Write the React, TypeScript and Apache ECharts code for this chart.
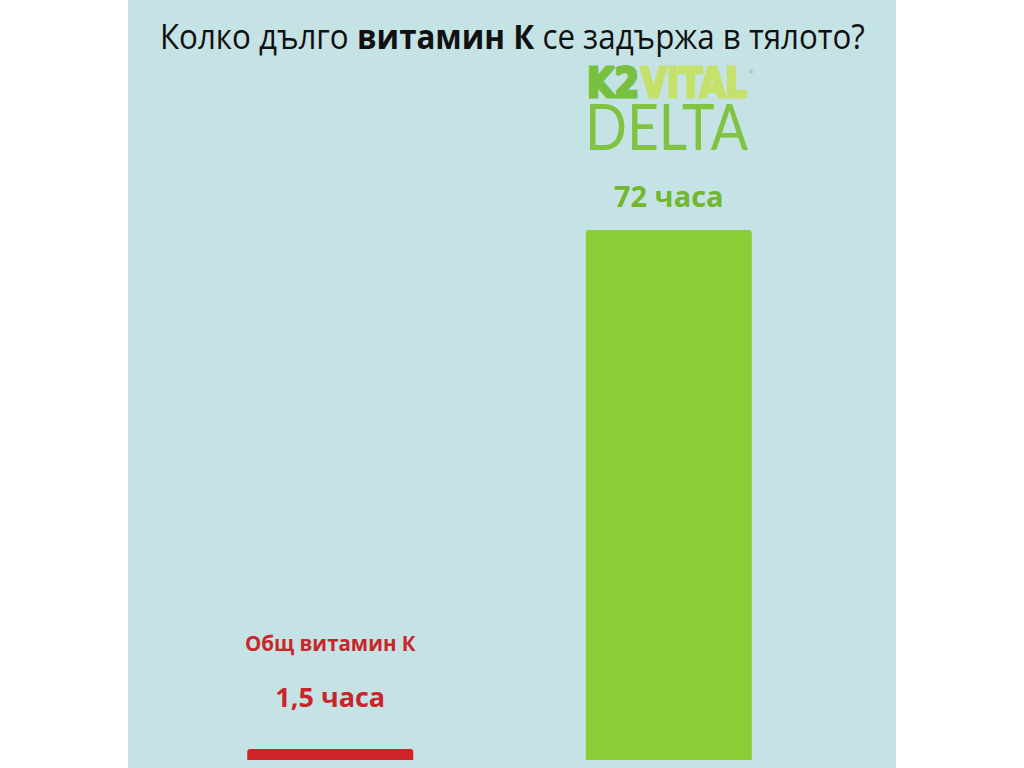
import React, { useEffect, useRef } from "react";
import * as echarts from "echarts";

const titleParts = ["Колко дълго ", "витамин К", " се задържа в тялото?"];
const categories = ["Общ витамин К", "K2VITAL DELTA"];
const values = [1.5, 72];
const unit = "часа";
const barColors = ["#cf2427", "#8acd37"];
const labelColors = ["#c8262b", "#72b72e"];
const logoParts = ["K2", "VITAL", "DELTA"];
const logoColors = ["#78c03f", "#c6e16a", "#80c342"];

function measure(text: string, font: string): number {
  const c = document.createElement("canvas");
  const ctx = c.getContext("2d")!;
  ctx.font = font;
  return ctx.measureText(text).width;
}

function fmt(v: number): string {
  return String(v).replace(".", ",") + " " + unit;
}

export default function App() {
  const ref = useRef<HTMLDivElement>(null);
  useEffect(() => {
    if (!ref.current) return;
    const chart = echarts.init(ref.current, null, { renderer: "svg" });

    const kFont = 'bold 40px "DejaVu Sans"';
    const dFont = 'normal 64px "Lato"';
    const sK2 = 52 / measure(logoParts[0], kFont);
    const sVital = 106 / measure(logoParts[1], kFont);
    const sDelta = 163 / measure(logoParts[2], dFont);

    const tSize = 34;
    const tNorm = `normal ${tSize}px "Open Sans"`;
    const tBold = `bold ${tSize}px "Open Sans"`;
    const tWidth =
      measure(titleParts[0], tNorm) + measure(titleParts[1], tBold) + measure(titleParts[2], tNorm);
    const sTitle = 705 / tWidth;

    const data = values.map((v, i) => ({
      value: v,
      itemStyle: { color: barColors[i], borderRadius: [3, 3, 0, 0] },
      label:
        i === 0
          ? {
              show: true,
              position: "top",
              distance: 25,
              formatter: `{n|${categories[0]}}\n{v|${fmt(v)}}`,
              rich: {
                n: { fontSize: 20.5, fontWeight: "bold", fontFamily: "Open Sans", color: labelColors[i], lineHeight: 54 },
                v: { fontSize: 27, fontWeight: "bold", fontFamily: "Open Sans", color: labelColors[i], lineHeight: 54 },
              },
            }
          : {
              show: true,
              position: "top",
              distance: 20,
              formatter: `{v|${fmt(v)}}`,
              rich: {
                v: { fontSize: 29, fontWeight: "bold", fontFamily: "Open Sans", color: labelColors[i], lineHeight: 30 },
              },
            },
    }));

    const logoText = (text: string, x: number, y: number, scaleX: number, size: number, weight: any, family: string, fill: string, stroke?: number) => ({
      type: "text",
      x,
      y,
      scaleX,
      silent: true,
      style: {
        text,
        fontSize: size,
        fontWeight: weight,
        fontFamily: family,
        fill,
        stroke: stroke ? fill : undefined,
        lineWidth: stroke || 0,
        align: "left",
        verticalAlign: "middle",
      },
    });

    chart.setOption({
      animation: false,
      grid: { left: 161, right: 186, top: 230, bottom: 8 },
      xAxis: { type: "category", data: categories, show: false },
      yAxis: { type: "value", min: 0, max: Math.max(...values), show: false, splitLine: { show: false } },
      series: [{ type: "bar", data, barWidth: 166 }],
      graphic: [
        {
          type: "text",
          x: 160,
          y: 36,
          scaleX: sTitle,
          silent: true,
          style: {
            text: `{n|${titleParts[0]}}{b|${titleParts[1]}}{n|${titleParts[2]}}`,
            align: "left",
            verticalAlign: "middle",
            rich: {
              n: { fontSize: tSize, fontFamily: "Open Sans", fontWeight: "normal", fill: "#111111" },
              b: { fontSize: tSize, fontFamily: "Open Sans", fontWeight: "bold", fill: "#111111" },
            },
          },
        },
        logoText(logoParts[0], 587, 83, sK2, 40, "bold", "DejaVu Sans", logoColors[0], 3),
        logoText(logoParts[1], 641, 83, sVital, 40, "bold", "DejaVu Sans", logoColors[1], 3),
        {
          type: "text",
          x: 748,
          y: 71,
          silent: true,
          style: { text: "®", fontSize: 6, fontFamily: "DejaVu Sans", fill: "#9aa9a9", align: "left", verticalAlign: "middle" },
        },
        logoText(logoParts[2], 585, 125, sDelta, 64, "normal", "Lato", logoColors[2]),
      ],
    });
    return () => chart.dispose();
  }, []);

  return (
    <div style={{ position: "fixed", left: 0, top: 0, width: 1024, height: 768, background: "#ffffff" }}>
      <div style={{ position: "absolute", left: 128, top: 0, width: 768, height: 768, background: "#c5e3e5" }} />
      <div ref={ref} style={{ position: "absolute", left: 0, top: 0, width: 1024, height: 768 }} />
    </div>
  );
}
